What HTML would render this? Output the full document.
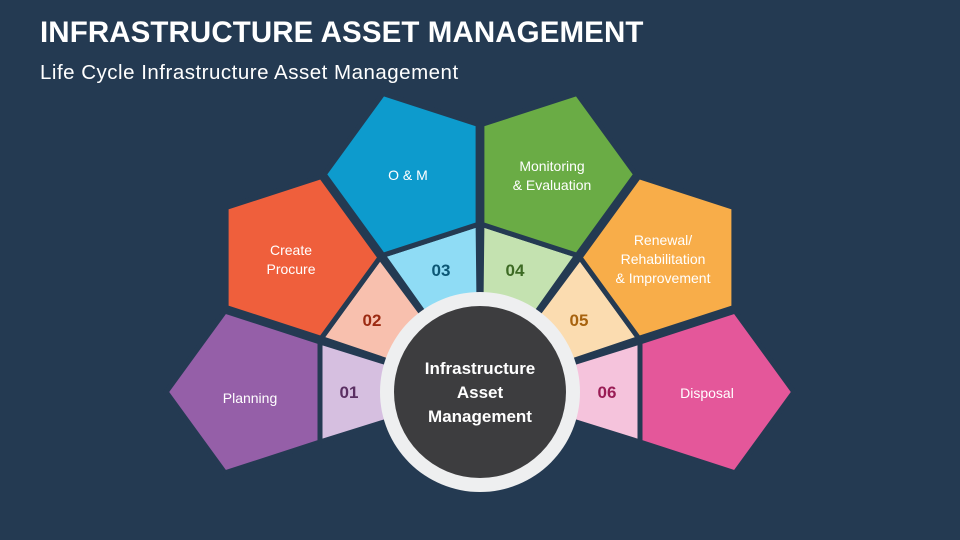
<!DOCTYPE html>
<html><head><meta charset="utf-8"><style>
html,body{margin:0;padding:0;background:#243a52;}
body{width:960px;height:540px;overflow:hidden;position:relative;font-family:"Liberation Sans",sans-serif;}
.t{position:absolute;left:40px;top:16px;color:#fff;font-weight:bold;font-size:29.5px;letter-spacing:0.1px;}
.s{position:absolute;left:40px;top:61px;color:#fff;font-size:20.5px;letter-spacing:0.5px;}
svg{position:absolute;left:0;top:0;}
</style></head><body>
<div class="t">INFRASTRUCTURE ASSET MANAGEMENT</div>
<div class="s">Life Cycle Infrastructure Asset Management</div>
<svg id="d" width="960" height="540" viewBox="0 0 960 540">
<g id="inner"></g><g id="outer"></g>
<circle cx="480" cy="392" r="100" fill="#eeeff0"/>
<circle cx="480" cy="392" r="86" fill="#3d3d3f"/>
<g font-family="Liberation Sans, sans-serif" fill="#fff" text-anchor="middle" font-size="14">
<text x="250" y="403">Planning</text>
<text x="291" y="255">Create</text><text x="291" y="274">Procure</text>
<text x="408" y="180">O &amp; M</text>
<text x="552" y="171">Monitoring</text><text x="552" y="190">&amp; Evaluation</text>
<text x="663" y="245">Renewal/</text><text x="663" y="264">Rehabilitation</text><text x="663" y="283">&amp; Improvement</text>
<text x="707" y="398">Disposal</text>
</g>
<g font-family="Liberation Sans, sans-serif" font-weight="bold" text-anchor="middle" font-size="17">
<text x="349" y="398" fill="#5a2f62">01</text>
<text x="372" y="326" fill="#9c2a12">02</text>
<text x="441" y="276" fill="#0c5775">03</text>
<text x="515" y="276" fill="#3d6a24">04</text>
<text x="579" y="326" fill="#a7620e">05</text>
<text x="607" y="398" fill="#9a1c55">06</text>
</g>
<g font-family="Liberation Sans, sans-serif" font-weight="bold" fill="#fff" text-anchor="middle" font-size="17">
<text x="480" y="374">Infrastructure</text>
<text x="480" y="398">Asset</text>
<text x="480" y="422">Management</text>
</g>
</svg>
<script>
(function(){
var O=[480,392],bg="#243a52";
var outC=["#955fa8","#ef5f3c","#0d9bcd","#6aac45","#f8ad49","#e4579a"];
var inC=["#d6bfe0","#f8c0ae","#8fdcf5","#c4e2b0","#fbdcb0","#f5c3dc"];
var ns="http://www.w3.org/2000/svg";
var gi=document.getElementById("inner"),go=document.getElementById("outer");
for(var i=0;i<6;i++){
 var th=(180-36*i)*Math.PI/180;
 var ux=Math.cos(th),uy=-Math.sin(th);
 var cx=O[0]+228.8*ux,cy=O[1]+228.8*uy,R=85.07;
 var pts=[];
 for(var k=0;k<5;k++){
  var a=Math.atan2(uy,ux)+k*72*Math.PI/180;
  pts.push([cx+R*Math.cos(a),cy+R*Math.sin(a)]);
 }
 var p=document.createElementNS(ns,"polygon");
 p.setAttribute("points",pts.map(function(q){return q[0].toFixed(1)+","+q[1].toFixed(1)}).join(" "));
 p.setAttribute("fill",outC[i]);p.setAttribute("stroke",bg);p.setAttribute("stroke-width","5");p.setAttribute("stroke-linejoin","miter");
 go.appendChild(p);
 var a2=pts[2],a3=pts[3];
 var t=document.createElementNS(ns,"polygon");
 t.setAttribute("points",O[0]+","+O[1]+" "+a2[0].toFixed(1)+","+a2[1].toFixed(1)+" "+a3[0].toFixed(1)+","+a3[1].toFixed(1));
 t.setAttribute("fill",inC[i]);t.setAttribute("stroke",bg);t.setAttribute("stroke-width","5");t.setAttribute("stroke-linejoin","round");
 gi.appendChild(t);
}
})();
</script>
</body></html>
